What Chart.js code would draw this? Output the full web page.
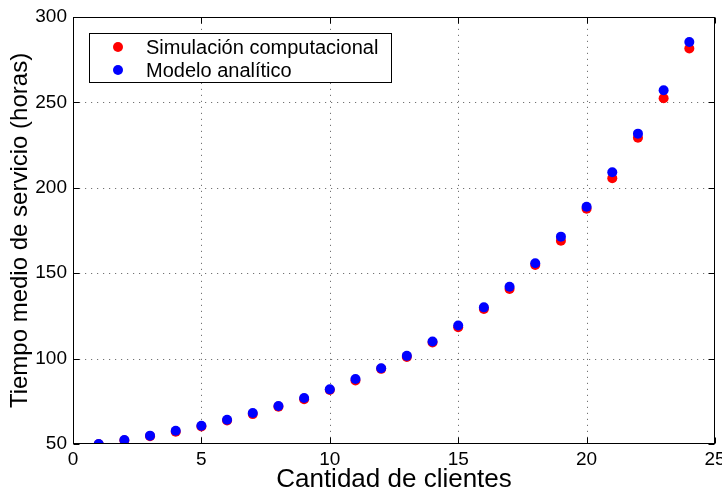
<!DOCTYPE html>
<html>
<head>
<meta charset="utf-8">
<script src="https://cdn.jsdelivr.net/npm/chart.js@4/dist/chart.umd.min.js"></script>
<style>
html,body{margin:0;padding:0;background:#fff;}
#wrap{width:722px;height:495px;}
</style>
</head>
<body>
<div id="wrap"><canvas id="c" width="722" height="495"></canvas></div>
<script>
const clientes = [1,2,3,4,5,6,7,8,9,10,11,12,13,14,15,16,17,18,19,20,21,22,23,24];
const simulacion = [49.9,52.0,54.5,57.2,60.2,63.8,67.5,71.8,76.2,81.6,87.2,94.0,101.0,109.4,118.4,129.1,140.7,154.8,169.0,187.8,205.6,229.3,252.4,281.6];
const modelo = [50.0,52.3,54.9,57.8,60.7,64.2,68.1,72.2,76.9,82.0,88.1,94.3,101.6,110.0,119.4,130.0,142.1,155.8,171.4,188.9,209.1,231.7,257.1,285.4];
const xTicks = [0,5,10,15,20,25];
const yTicks = [50,100,150,200,250,300];
const seriesNames = ['Simulación computacional','Modelo analítico'];
const FONT = '"Liberation Sans", Arial, Helvetica, sans-serif';

const framePlugin = {
  id: 'frame',
  beforeDatasetsDraw(chart) {
    const {ctx, chartArea: a, scales: {x, y}} = chart;
    ctx.save();
    ctx.strokeStyle = 'rgba(0,0,0,0.55)';
    ctx.lineWidth = 1;
    ctx.setLineDash([1.2, 4.8]);
    xTicks.forEach(v => {
      if (v <= x.min || v >= x.max) return;
      const px = Math.round(x.getPixelForValue(v)) + 0.5;
      ctx.beginPath(); ctx.moveTo(px, a.bottom); ctx.lineTo(px, a.top); ctx.stroke();
    });
    yTicks.forEach(v => {
      if (v <= y.min || v >= y.max) return;
      const py = Math.round(y.getPixelForValue(v)) + 0.5;
      ctx.beginPath(); ctx.moveTo(a.left, py); ctx.lineTo(a.right, py); ctx.stroke();
    });
    ctx.restore();
  },
  afterDraw(chart) {
    const {ctx, chartArea: a, scales: {x, y}} = chart;
    ctx.save();
    ctx.strokeStyle = '#000';
    ctx.lineWidth = 1;
    ctx.setLineDash([]);
    const L = Math.round(a.left) + 0.5, R = Math.round(a.right) - 0.5;
    const T = Math.round(a.top) + 0.5, B = Math.round(a.bottom) - 0.5;
    ctx.strokeRect(L, T, R - L, B - T);
    const tl = 6;
    xTicks.forEach(v => {
      const px = Math.round(x.getPixelForValue(v)) + 0.5;
      ctx.beginPath();
      ctx.moveTo(px, B); ctx.lineTo(px, B - tl);
      ctx.moveTo(px, T); ctx.lineTo(px, T + tl);
      ctx.stroke();
    });
    yTicks.forEach(v => {
      const py = Math.round(y.getPixelForValue(v)) + 0.5;
      ctx.beginPath();
      ctx.moveTo(L, py); ctx.lineTo(L + tl, py);
      ctx.moveTo(R, py); ctx.lineTo(R - tl, py);
      ctx.stroke();
    });
    // legend
    const bx = 89.5, by = 33.5, bw = 302, bh = 49;
    ctx.fillStyle = '#fff';
    ctx.fillRect(bx, by, bw, bh);
    ctx.strokeRect(bx, by, bw, bh);
    ctx.font = '20px ' + FONT;
    ctx.textBaseline = 'middle';
    ctx.textAlign = 'left';
    chart.data.datasets.forEach((ds, i) => {
      const cy = by + 13.5 + i * 23;
      ctx.beginPath();
      ctx.fillStyle = ds.backgroundColor;
      ctx.arc(118, cy, 5, 0, Math.PI * 2);
      ctx.fill();
      ctx.fillStyle = '#000';
      ctx.fillText(ds.label, 146, cy + 1);
    });
    ctx.restore();
  }
};

const toPts = arr => clientes.map((c, i) => ({x: c, y: arr[i]}));

new Chart(document.getElementById('c'), {
  type: 'scatter',
  data: {
    datasets: [
      {label: seriesNames[0], data: toPts(simulacion), backgroundColor: '#ff0000', borderColor: '#ff0000', pointRadius: 5, pointBorderWidth: 0, order: 2},
      {label: seriesNames[1], data: toPts(modelo), backgroundColor: '#0000ff', borderColor: '#0000ff', pointRadius: 5, pointBorderWidth: 0, order: 1}
    ]
  },
  options: {
    responsive: false,
    animation: false,
    devicePixelRatio: 1,
    layout: {autoPadding: false, padding: {top: 17, right: 7, left: 0, bottom: 0}},
    plugins: {legend: {display: false}, tooltip: {enabled: false}},
    scales: {
      x: {
        type: 'linear', min: 0, max: 25,
        afterBuildTicks: s => { s.ticks = xTicks.map(v => ({value: v})); },
        afterFit: s => { s.height = 51; s.paddingLeft = 0; s.paddingRight = 0; },
        grid: {display: false, drawTicks: false},
        border: {display: false},
        ticks: {color: '#000', font: {family: FONT, size: 19}, padding: 4, maxRotation: 0},
        title: {display: true, text: 'Cantidad de clientes', color: '#000', font: {family: FONT, size: 26}, padding: {top: 0, bottom: 0}}
      },
      y: {
        type: 'linear', min: 50, max: 300,
        afterBuildTicks: s => { s.ticks = yTicks.map(v => ({value: v})); },
        afterFit: s => { s.width = 73; s.paddingTop = 0; s.paddingBottom = 0; },
        grid: {display: false, drawTicks: false},
        border: {display: false},
        ticks: {color: '#000', font: {family: FONT, size: 19}, padding: 6},
        title: {display: true, text: 'Tiempo medio de servicio (horas)', color: '#000', font: {family: FONT, size: 24}, padding: {top: 6, bottom: 0}}
      }
    }
  },
  plugins: [framePlugin]
});
</script>
</body>
</html>
